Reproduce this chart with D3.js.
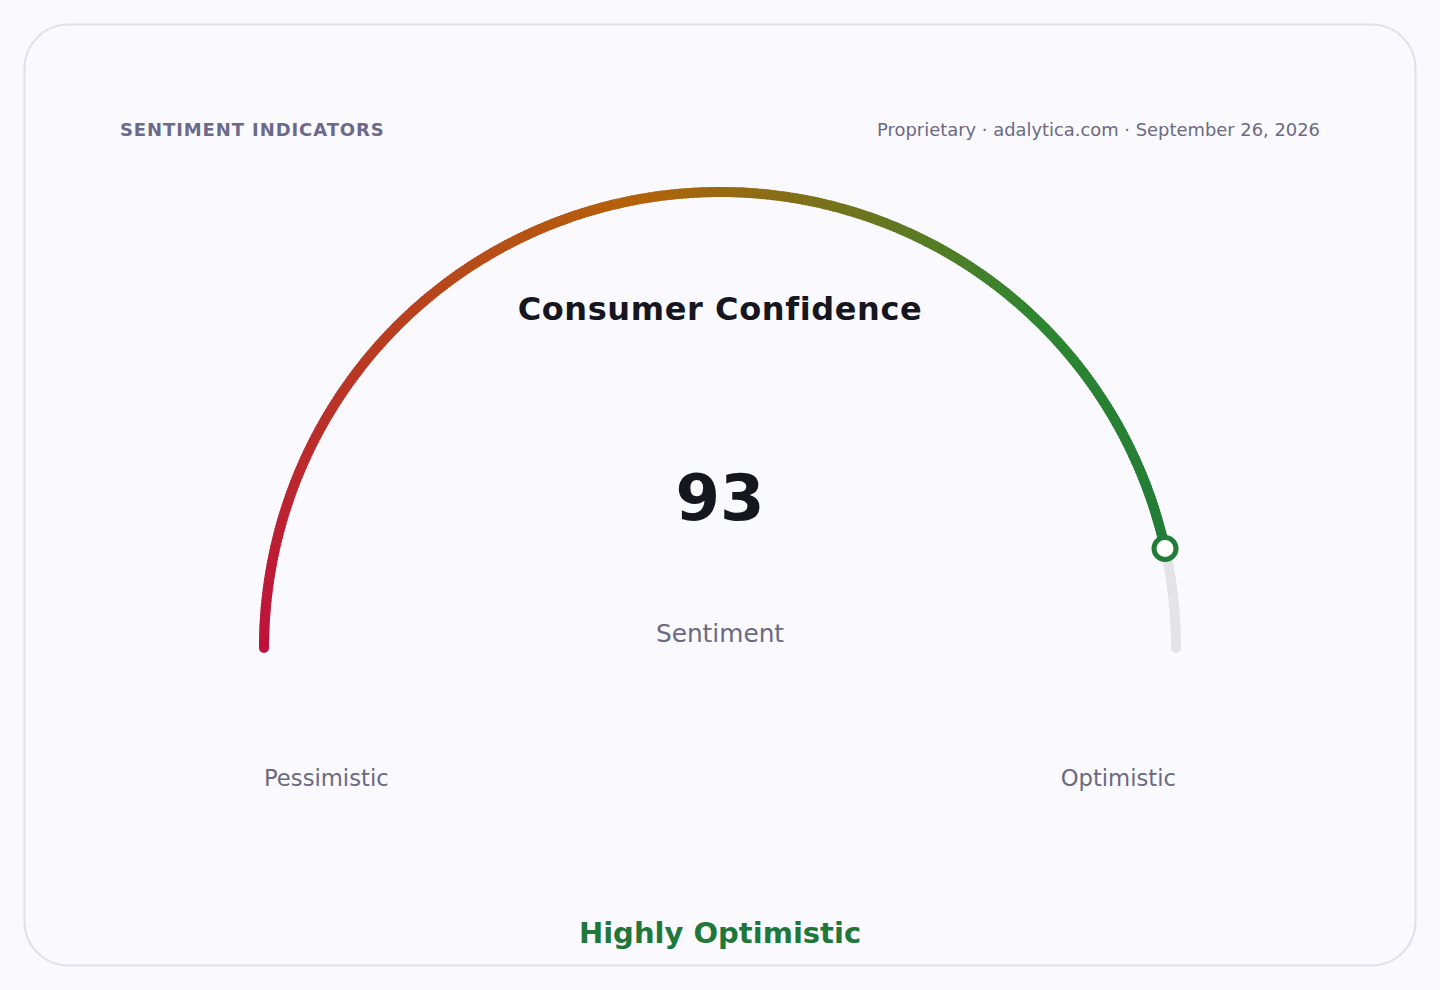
<!DOCTYPE html>
<html>
<head>
<meta charset="utf-8">
<script src="https://cdn.jsdelivr.net/npm/d3@7"></script>
<style>
  html, body { margin: 0; padding: 0; background: #f9f9fe; }
  svg { display: block; font-family: "DejaVu Sans", sans-serif; }
</style>
</head>
<body>
<svg id="chart" width="1440" height="990"></svg>
<script>
// gauge data
const gaugeTitle = 'Consumer Confidence'
const gaugeValue = [93]
const gaugeDomain = [0, 100]
const endLabels = ['Pessimistic', 'Optimistic']
const colorDomain = [0, 44, 74, 100]
const colorStops = ['#be123c', '#b4620a', '#2e8630', '#1d783a']
const verdict = 'Highly Optimistic'

const svg = d3.select('#chart')
const cx = 720, cy = 648, radius = 456

// card
svg.append('rect')
  .attr('x', 24.5).attr('y', 24.5)
  .attr('width', 1391).attr('height', 941)
  .attr('rx', 44)
  .attr('fill', '#f9f9fe')
  .attr('stroke', '#e0e0ee')
  .attr('stroke-width', 2)

// header
svg.append('text')
  .attr('x', 120).attr('y', 136)
  .style('font-size', '18px').style('font-weight', 'bold')
  .style('letter-spacing', '0.9px')
  .attr('fill', '#6c6a8a')
  .text('SENTIMENT INDICATORS')

svg.append('text')
  .attr('x', 1320).attr('y', 136)
  .attr('text-anchor', 'end')
  .style('font-size', '17.9px')
  .attr('fill', '#6c6a80')
  .text('Proprietary · adalytica.com · September 26, 2026')

// value -> angle (0 is up, clockwise)
const angle = d3.scaleLinear().domain(gaugeDomain).range([-Math.PI / 2, Math.PI / 2])
const color = d3.scaleLinear()
  .domain(colorDomain)
  .range(colorStops)
  .interpolate(d3.interpolateRgb)

const g = svg.append('g').attr('transform', `translate(${cx},${cy})`)

const line = d3.lineRadial().curve(d3.curveLinear)

// grey track for the remainder
const rest = d3.range(gaugeValue[0], gaugeDomain[1] + 0.01, 0.25).map(v => [angle(v), radius])
g.append('path')
  .attr('d', line(rest))
  .attr('fill', 'none')
  .attr('stroke', '#e4e4e8')
  .attr('stroke-width', 10)
  .attr('stroke-linecap', 'round')

// coloured arc drawn as small pieces
const step = 0.25
const pieces = d3.range(gaugeDomain[0], gaugeValue[0], step)
g.selectAll('path.seg')
  .data(pieces)
  .join('path')
  .attr('class', 'seg')
  .attr('d', v => line([[angle(v), radius], [angle(Math.min(v + step * 1.6, gaugeValue[0])), radius]]))
  .attr('fill', 'none')
  .attr('stroke', v => color(v))
  .attr('stroke-width', 10)
  .attr('stroke-linecap', 'butt')

// round start cap
g.append('circle')
  .attr('cx', radius * Math.sin(angle(gaugeDomain[0])))
  .attr('cy', -radius * Math.cos(angle(gaugeDomain[0])))
  .attr('r', 5)
  .attr('fill', color(gaugeDomain[0]))

// marker
g.append('circle')
  .attr('cx', radius * Math.sin(angle(gaugeValue[0])))
  .attr('cy', -radius * Math.cos(angle(gaugeValue[0])))
  .attr('r', 11)
  .attr('fill', '#ffffff')
  .attr('stroke', color(gaugeValue[0]))
  .attr('stroke-width', 5)

// centre texts
svg.append('text')
  .attr('x', cx).attr('y', 320)
  .attr('text-anchor', 'middle')
  .style('font-size', '32px').style('font-weight', 'bold')
  .style('letter-spacing', '0.6px')
  .attr('fill', '#16161e')
  .text(gaugeTitle)

svg.append('text')
  .attr('x', cx).attr('y', 520)
  .attr('text-anchor', 'middle')
  .style('font-size', '64px').style('font-weight', 'bold')
  .attr('fill', '#16161e')
  .text(gaugeValue[0])

svg.append('text')
  .attr('x', cx).attr('y', 642)
  .attr('text-anchor', 'middle')
  .style('font-size', '24.8px')
  .attr('fill', '#6c6a80')
  .text('Sentiment')

// end labels
svg.append('text')
  .attr('x', cx - radius).attr('y', 786)
  .style('font-size', '22.7px')
  .attr('fill', '#6c6a80')
  .text(endLabels[0])

svg.append('text')
  .attr('x', cx + radius).attr('y', 786)
  .attr('text-anchor', 'end')
  .style('font-size', '22.7px')
  .attr('fill', '#6c6a80')
  .text(endLabels[1])

// verdict
svg.append('text')
  .attr('x', cx).attr('y', 943)
  .attr('text-anchor', 'middle')
  .style('font-size', '29px').style('font-weight', 'bold')
  .attr('fill', '#1f773a')
  .text(verdict)
</script>
</body>
</html>
